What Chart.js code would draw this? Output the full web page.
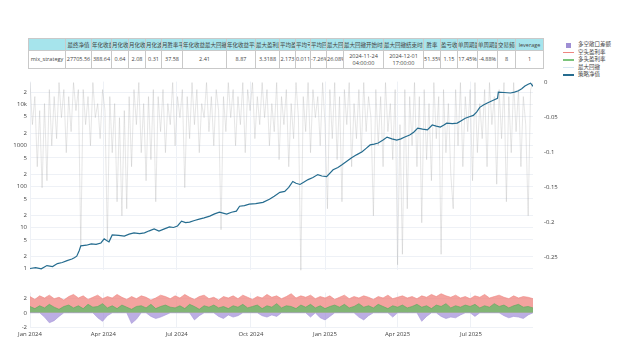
<!DOCTYPE html>
<html>
<head>
<meta charset="utf-8">
<script src="https://cdn.jsdelivr.net/npm/chart.js@4.4.1/dist/chart.umd.min.js"></script>
<style>
  body { margin: 0; width: 626px; height: 360px; background: #fff; position: relative; overflow: hidden;
         font-family: "Open Sans", "Noto Sans CJK SC", sans-serif; color: #444; }
  #stats { position: absolute; left: 28px; top: 38px; border-collapse: collapse; table-layout: fixed;
           width: 515px; font-size: 5.5px; }
  #stats td { border: 1px solid #c9c9c9; overflow: hidden; white-space: nowrap; text-align: center; padding: 0; }
  #stats tr.head td { background: #a6e4ec; height: 11px; }
  #stats tr.row td { height: 17px; line-height: 6.5px; }
  #legend { position: absolute; left: 562px; top: 41px; font-size: 5.5px; }
  #legend div { height: 7.5px; line-height: 7.5px; white-space: nowrap; position: relative; padding-left: 16px; }
  #legend span.mk { position: absolute; left: 1px; top: 3px; width: 11px; height: 1.5px; }
  #legend span.sq { position: absolute; left: 4px; top: 1.5px; width: 5px; height: 5px; }
  canvas { position: absolute; left: 0; }
</style>
</head>
<body>
<table id="stats"></table>
<div id="legend"></div>
<canvas id="main" width="626" height="202" style="top:75px"></canvas>
<canvas id="sub" width="626" height="56" style="top:286px"></canvas>
<script>
// stats table
const statHeaders = ['', '最终净值', '年化收益率', '月化收益均值', '月化收益回撤比', '月化波动率', '月胜率平均',
  '年化收益最大回撤比', '年化收益平均回撤比', '最大盈利比', '平均盈利', '平均亏损', '平均回撤', '最大回撤',
  '最大回撤开始时间', '最大回撤结束时间', '胜率', '盈亏收益比', '单周期最大盈利', '单周期最大亏损', '交易频率', 'leverage'];
const statValues = ['mix_strategy', '27705.56', '388.64', '0.64', '2.08', '0.31', '37.58', '2.41', '8.87',
  '3.3188', '2.173', '0.011', '-7.26%', '26.08%', '2024-11-24<br>04:00:00', '2024-12-01<br>17:00:00',
  '51.35%', '1.15', '17.45%', '-4.88%', '8', '1'];
const colWidths = [37, 26, 20, 17, 17, 16, 21, 44, 29, 24, 16, 15, 16, 17, 40, 40, 17, 17, 20, 20, 18, 28];

// x axis: days since 2024-01-01
const monthDays = [0, 91, 182, 274, 366, 456, 547];
const monthLabels = ['Jan 2024', 'Apr 2024', 'Jul 2024', 'Oct 2024', 'Jan 2025', 'Apr 2025', 'Jul 2025'];

// 策略净值 (log axis)
const eqDays = [0,7,14,21,28,34,40,46,52,55, 58,61,63,70,76,82,88,92,95,98,
  102,110,117,123,129,136,142,148,154,160, 166,173,178,183,188,193,198,204,210,216,
  223,229,235,244,250,256,260,266,272,280, 289,297,303,310,316,321,326,330,335,340,
  345,351,357,362,368,376,382,387,393,399, 405,412,417,422,427,432,438,443,449,455,
  460,465,471,476,481,487,493,499,504,509, 513,517,524,530,535,540,545,550,554,558,
  563,568,574,580,581,588,596,601,606,610, 614,618,621,624];
const eqValues = [1.0,1.05,0.98,1.18,1.12,1.32,1.4,1.56,1.7,1.84, 2.0,2.71,3.58,3.7,4.0,3.9,4.2,5.3,4.8,4.47,
  6.6,6.4,6.2,6.9,7.4,7.1,7.4,8.3,9.2,8.2, 9.1,10.3,10.0,10.9,14.3,13.2,13.5,14.8,16.0,17.2,
  18.9,21.5,23.6,21.2,23.5,25.0,33,34,37,38, 41,49,58,72,76,95,132,120,112,128,
  147,165,195,180,174,256,290,338,410,500, 590,700,850,1030,1080,1150,1350,1600,1450,1350,
  1450,1600,1800,2100,2650,2500,2400,3150,2950,2800, 3100,3500,3400,3500,4000,4600,5000,5400,6500,8500,
  9800,11000,12500,14000,20000,19500,19000,20000,21500,24000, 28000,31000,33000,27700];
const logTicks = [1, 2, 5, 10, 20, 50, 100, 200, 500, 1000, 2000, 5000, 10000, 20000];
const logTickLabels = ['1', '2', '5', '10', '2', '5', '100', '2', '5', '1000', '2', '5', '10k', '2'];

// 最大回撤 (right axis), one value every 3 days
const ddStep = 3;
const ddValues = [0,-0.06,-0.02,-0.12,-0.04,-0.15,-0.03,-0.14,-0.01,-0.09,-0.02,
  -0.08,0,-0.05,-0.01,-0.1,-0.02,-0.07,0,-0.04,-0.01, -0.234,
  -0.01,-0.06,-0.02,-0.09,0,-0.05,-0.03,-0.08,-0.01,-0.04, -0.225,
  -0.02,-0.1,-0.03,-0.17,-0.05,-0.19,-0.04,-0.18,-0.02,-0.12,-0.01,
  -0.06,0,-0.1,-0.03,-0.14,-0.02,-0.11,-0.01,-0.17,
  -0.02,-0.07,-0.01,-0.1,-0.03,-0.06,0,-0.09,-0.02,-0.05,-0.01,-0.15,
  -0.02,-0.08,0,-0.06,-0.01,-0.1,-0.03,-0.05,0,-0.07,-0.02,-0.09,-0.01,-0.04,-0.21,
  -0.02,-0.07,0,-0.05,-0.01,-0.09,-0.02,-0.06,0,-0.1,
  -0.01,-0.04,0,-0.08,-0.02,-0.06,0,-0.05,-0.01,-0.09,-0.03,-0.07,0,-0.11,-0.02,-0.06,-0.01,-0.12,-0.03,-0.08,0,-0.05,
  -0.268,
  -0.02,-0.07,0,-0.1,-0.01,-0.05,-0.02,-0.09,0,-0.06, -0.18,
  -0.01,-0.08,0,-0.11,-0.02, -0.17,
  -0.01,-0.06,0,-0.12,-0.03,-0.08,-0.01,-0.1,0,-0.07,-0.02,-0.05, -0.19,
  -0.01,-0.09,-0.02,-0.12,0,-0.07,-0.03,-0.11,-0.01,
  -0.26,-0.06,-0.245,
  -0.01,-0.18,-0.02,-0.09,0,-0.12,-0.02, -0.2,
  -0.01,-0.11,-0.03,-0.14,0,-0.08,-0.02, -0.245,
  -0.01,-0.1,-0.03,-0.13, -0.18,
  -0.01,-0.09,0,-0.12,-0.02,-0.07,-0.01,-0.14,0,-0.1,-0.03,-0.08,-0.01,-0.12,0,-0.06,-0.02, -0.145,
  -0.01,-0.08,0, -0.17,
  -0.02,-0.1,0,-0.07,-0.01,-0.12,-0.02,-0.06, -0.19,
  -0.01,0];
const ddTicks = [0, -0.05, -0.1, -0.15, -0.2, -0.25];
const ddTickLabels = ['0', '-0.05', '-0.1', '-0.15', '-0.2', '-0.25'];

// lower panel, one value every 6 days
const subStep = 6;
const shortRate = [2.3,1.9,2.4,2.1,2.5,2.0,2.2,1.8,2.3,2.6, 2.1,2.4,1.9,2.2,2.5,2.0,2.3,2.1,2.6,2.2,
  1.9,2.3,2.0,2.4,2.2,1.8,2.1,2.5,2.3,2.0, 2.4,2.1,2.6,2.2,1.9,2.3,2.5,2.0,2.2,1.8,
  2.3,2.1,2.4,2.0,2.5,2.2,1.9,2.3,2.1,2.6, 2.2,2.4,2.0,2.3,2.7,2.1,2.4,2.2,2.5,2.0,
  2.3,2.1,2.4,1.9,2.2,2.5,2.0,2.3,2.1,2.4, 2.2,1.9,2.3,2.1,2.5,2.0,2.2,2.4,2.1,2.3,
  2.0,2.4,2.2,2.6,2.3,2.7,2.4,2.2,2.5,2.1, 2.3,2.0,2.4,2.2,2.6,2.1,2.3,2.5,2.2,2.0,
  2.4,2.1,2.3,2.2,2.0];
const longRate = [0.9,0.6,1.0,0.7,1.2,0.8,0.5,0.9,1.1,0.7, 1.0,0.6,1.2,0.8,0.9,1.3,0.7,1.0,0.6,1.1,
  0.8,0.5,0.9,1.0,0.7,1.2,0.6,0.9,1.1,0.8, 0.7,1.0,0.6,1.2,0.9,0.5,1.0,0.8,1.1,0.7,
  0.9,0.6,1.0,0.8,1.2,0.7,0.9,1.1,0.6,1.0, 0.8,1.3,0.7,1.0,0.9,0.6,1.1,0.8,1.2,0.7,
  1.0,0.6,0.9,1.1,0.8,1.2,0.7,0.9,1.3,0.8, 1.0,0.7,1.2,0.9,0.6,1.0,0.8,1.1,0.7,0.9,
  1.2,0.8,1.0,0.6,1.1,0.9,1.3,0.7,1.0,0.8, 1.1,0.9,1.2,0.7,1.0,0.8,1.3,0.9,1.1,0.7,
  1.0,1.2,0.8,0.9,0.7];
const exposureDiff = [0,0,0,-0.6,-1.4,-1.1,-0.5,0,0,0, 0,0,0,0,-0.7,-1.2,-0.4,0,0,0,
  0,-1.5,-0.9,0,0,-0.5,-0.8,-0.6,-0.3,0, 0,0,0,0,-1.0,-0.4,0,0,0,-0.5,
  -0.8,-0.3,-0.6,-0.4,0,0,0,0,-0.4,-0.6, -0.3,-0.5,0,0,0,0,0,0,-0.6,0,
  -0.7,-1.0,-0.5,0,0,0,0,0,-0.6,-1.0, -0.4,0,0,0,0,-0.6,0,0,0,0,
  0,-1.2,-0.5,0,0,-0.5,-0.8,-0.6,-0.7,-0.3, 0,0,-0.5,0,0,0,0,0,-0.4,-0.7,
  -0.5,-0.6,-0.8,-0.3,0];
const subTicks = [-2, 0, 2];

const legendItems = [
  { label: '多空敞口差额', color: '#9f8fd4', square: true },
  { label: '空头盈利率', color: '#ee8580' },
  { label: '多头盈利率', color: '#7cc47c' },
  { label: '最大回撤', color: '#d6e6f2' },
  { label: '策略净值', color: '#256c8f' }
];

// build table
const tbl = document.getElementById('stats');
let html = '<colgroup>' + colWidths.map(w => '<col style="width:' + w + 'px">').join('') + '</colgroup>';
html += '<tr class="head">' + statHeaders.map(h => '<td>' + h + '</td>').join('') + '</tr>';
html += '<tr class="row">' + statValues.map(v => '<td>' + v + '</td>').join('') + '</tr>';
tbl.innerHTML = html;

document.getElementById('legend').innerHTML = legendItems.map(it =>
  '<div><span class="' + (it.square ? 'sq' : 'mk') + '" style="background:' + it.color + '"></span>' + it.label + '</div>'
).join('');

Chart.defaults.font.family = '"Open Sans", "Noto Sans CJK SC", sans-serif';
Chart.defaults.font.size = 6;
Chart.defaults.color = '#444';
const gridColor = '#eef1f6';

new Chart(document.getElementById('main'), {
  type: 'line',
  data: {
    datasets: [
      {
        label: '策略净值',
        data: eqDays.map((d, i) => ({ x: d, y: eqValues[i] })),
        yAxisID: 'y',
        borderColor: '#256c8f',
        borderWidth: 1.2,
        pointRadius: 0,
        tension: 0
      },
      {
        label: '最大回撤',
        data: ddValues.map((v, i) => ({ x: i * ddStep, y: v })),
        yAxisID: 'y2',
        borderColor: 'rgba(170,170,170,0.5)',
        borderWidth: 0.6,
        pointRadius: 0
      }
    ]
  },
  options: {
    responsive: false,
    animation: false,
    devicePixelRatio: 1,
    layout: { padding: { top: 6, bottom: 0 } },
    plugins: { legend: { display: false }, tooltip: { enabled: false } },
    scales: {
      x: {
        type: 'linear', min: 0, max: 624,
        afterBuildTicks: s => { s.ticks = monthDays.map(v => ({ value: v })); },
        afterFit: s => { s.height = 0; },
        ticks: { display: false },
        grid: { color: gridColor, drawTicks: false },
        border: { display: false }
      },
      y: {
        type: 'logarithmic', position: 'left', min: 0.9, max: 36000,
        afterBuildTicks: s => { s.ticks = logTicks.map(v => ({ value: v })); },
        afterFit: s => { s.width = 30; },
        ticks: { callback: (v, i) => logTickLabels[i], padding: 3, autoSkip: false },
        grid: { color: gridColor, drawTicks: false },
        border: { display: false }
      },
      y2: {
        type: 'linear', position: 'right', min: -0.268, max: 0.0014,
        afterBuildTicks: s => { s.ticks = ddTicks.map(v => ({ value: v })); },
        afterFit: s => { s.width = 93; },
        ticks: { callback: (v, i) => ddTickLabels[i], padding: 3, autoSkip: false },
        grid: { display: false },
        border: { display: false }
      }
    }
  }
});

new Chart(document.getElementById('sub'), {
  type: 'line',
  data: {
    datasets: [
      {
        label: '多空敞口差额',
        data: exposureDiff.map((v, i) => ({ x: i * subStep, y: v })),
        borderColor: '#a898da',
        backgroundColor: 'rgba(160,140,215,0.7)',
        borderWidth: 0.6,
        fill: 'origin',
        pointRadius: 0
      },
      {
        label: '多头盈利率',
        data: longRate.map((v, i) => ({ x: i * subStep, y: v })),
        borderColor: '#5aa85a',
        backgroundColor: 'rgba(110,185,110,0.85)',
        borderWidth: 0.6,
        fill: 'origin',
        pointRadius: 0
      },
      {
        label: '空头盈利率',
        data: shortRate.map((v, i) => ({ x: i * subStep, y: v })),
        borderColor: '#ee8580',
        backgroundColor: 'rgba(240,140,135,0.8)',
        borderWidth: 0.6,
        fill: 'origin',
        pointRadius: 0
      }
    ]
  },
  options: {
    responsive: false,
    animation: false,
    devicePixelRatio: 1,
    layout: { padding: { top: 6, right: 93 } },
    plugins: { legend: { display: false }, tooltip: { enabled: false } },
    scales: {
      x: {
        type: 'linear', min: 0, max: 624,
        afterBuildTicks: s => { s.ticks = monthDays.map(v => ({ value: v })); },
        afterFit: s => { s.height = 15; },
        ticks: { callback: (v, i) => monthLabels[i], padding: 4, maxRotation: 0, autoSkip: false },
        grid: { color: gridColor, drawTicks: false },
        border: { display: false }
      },
      y: {
        min: -2, max: 2.86,
        afterBuildTicks: s => { s.ticks = subTicks.map(v => ({ value: v })); },
        afterFit: s => { s.width = 30; },
        ticks: { padding: 3, autoSkip: false },
        grid: { color: gridColor, drawTicks: false },
        border: { display: false }
      }
    }
  }
});
</script>
</body>
</html>
